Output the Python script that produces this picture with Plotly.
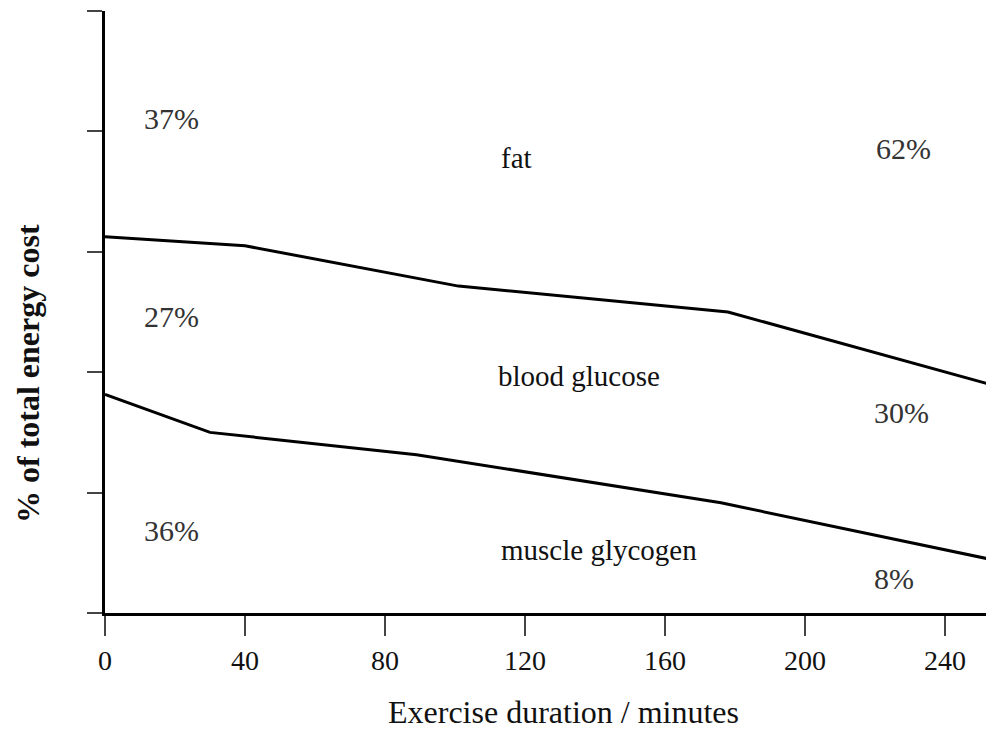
import plotly.graph_objects as go

# Data
minutes_upper = [0, 40, 101, 178, 254]
glycogen_plus_glucose = [62.5, 61.0, 54.3, 50.0, 37.8]   # upper boundary (glycogen + blood glucose)
minutes_lower = [0, 30, 89, 176, 254]
glycogen = [36.3, 30.0, 26.3, 18.3, 8.8]                  # lower boundary (muscle glycogen)

x_ticks = [0, 40, 80, 120, 160, 200, 240]
y_ticks = [0, 20, 40, 60, 80, 100]

label_text = ["37%", "fat", "62%", "27%", "blood glucose", "30%", "36%", "muscle glycogen", "8%"]
label_x = [19.1, 117.5, 228, 19.1, 135.5, 227.7, 19.1, 141, 225.4]
label_y = [82.2, 75.5, 77.2, 49.2, 39.3, 33.3, 13.7, 10.5, 5.8]
label_is_pct = [True, False, True, True, False, True, True, False, True]

x_title = "Exercise duration / minutes"
y_title = "% of total energy cost"

SERIF = "Liberation Serif, Times New Roman, serif"

fig = go.Figure()
fig.add_trace(go.Scatter(x=minutes_upper, y=glycogen_plus_glucose, mode="lines",
                         line=dict(color="black", width=3), showlegend=False, hoverinfo="skip"))
fig.add_trace(go.Scatter(x=minutes_lower, y=glycogen, mode="lines",
                         line=dict(color="black", width=3), showlegend=False, hoverinfo="skip"))

for t, x, y, pct in zip(label_text, label_x, label_y, label_is_pct):
    fig.add_annotation(x=x, y=y, text=t, showarrow=False,
                       font=dict(family=SERIF, size=30 if pct else 29,
                                 color="#333333" if pct else "#111111"))

# axis titles (placed as in the reference, slightly off-centre)
fig.add_annotation(x=131, y=0, xref="x", yref="paper", yshift=-99, text=x_title,
                   showarrow=False, xanchor="center", yanchor="middle",
                   font=dict(family=SERIF, size=32, color="#111111"))
fig.add_annotation(x=0, y=39.7, xref="paper", yref="y", xshift=-77, text="<b>" + y_title + "</b>",
                   showarrow=False, textangle=-90, xanchor="center", yanchor="middle",
                   font=dict(family=SERIF, size=32, color="#111111"))

fig.update_layout(
    width=986, height=726,
    margin=dict(l=97, r=0, t=3, b=121),
    paper_bgcolor="white", plot_bgcolor="white",
    xaxis=dict(range=[0, 254], tickvals=x_ticks, ticktext=[str(v) for v in x_ticks],
               showgrid=False, zeroline=False, showline=True, linecolor="black", linewidth=3,
               ticks="outside", ticklen=20, tickwidth=2, tickcolor="#444444",
               tickfont=dict(family=SERIF, size=28, color="#111111")),
    yaxis=dict(range=[0, 100], tickvals=y_ticks, showticklabels=False,
               showgrid=False, zeroline=False, showline=True, linecolor="black", linewidth=3,
               ticks="outside", ticklen=15, tickwidth=2, tickcolor="#444444"),
)

fig.write_html("out.html")
